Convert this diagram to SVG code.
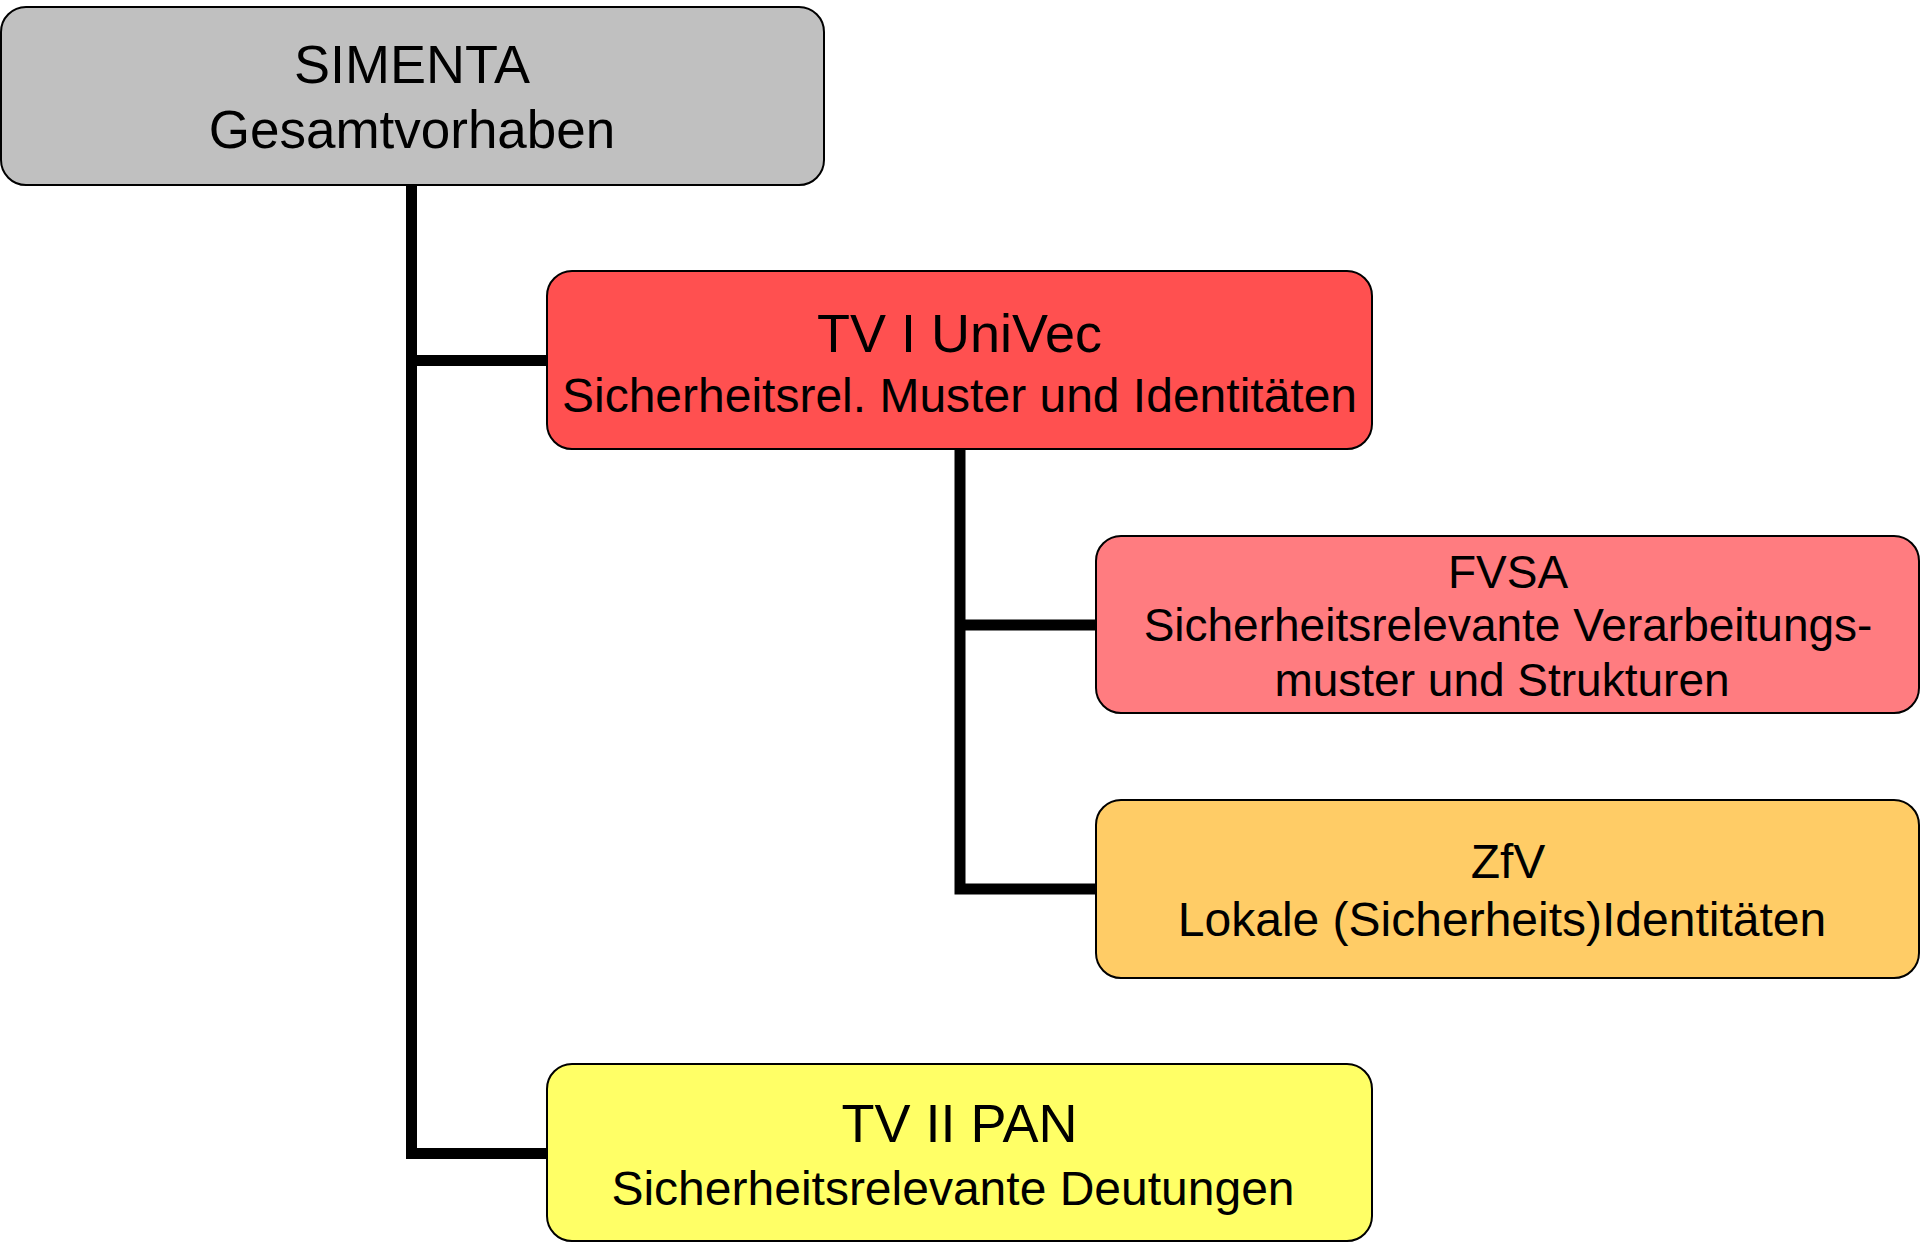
<svg xmlns="http://www.w3.org/2000/svg" width="1920" height="1242" viewBox="0 0 1920 1242">
<style>
.box{stroke:#000;stroke-width:2}
.t{font-family:"Liberation Sans",Arial,sans-serif;fill:#000;text-anchor:middle}
.conn{fill:none;stroke:#000;stroke-width:11;stroke-linejoin:miter;stroke-linecap:butt}
</style>
<rect width="1920" height="1242" fill="#fff"/>
<g id="connectors">
<path class="conn" d="M411.5 185 V1153.5 H547"/>
<path class="conn" d="M411.5 360.5 H547"/>
<path class="conn" d="M960 449 V889 H1096"/>
<path class="conn" d="M960 625 H1096"/>
</g>
<g id="simenta">
<rect class="box" x="1" y="7" width="823" height="178" rx="25" fill="#C0C0C0"/>
<text class="t" x="412" y="83" font-size="54">SIMENTA</text>
<text class="t" x="412" y="148" font-size="53">Gesamtvorhaben</text>
</g>
<g id="tv1">
<rect class="box" x="547" y="271" width="825" height="178" rx="25" fill="#FF5050"/>
<text class="t" x="959.5" y="352" font-size="54">TV I UniVec</text>
<text class="t" x="959.5" y="412" font-size="48">Sicherheitsrel. Muster und Identitäten</text>
</g>
<g id="fvsa">
<rect class="box" x="1096" y="536" width="823" height="177" rx="25" fill="#FF7C80"/>
<text class="t" x="1508" y="588" font-size="46">FVSA</text>
<text class="t" x="1508" y="641" font-size="46">Sicherheitsrelevante Verarbeitungs-</text>
<text class="t" x="1502" y="696" font-size="46">muster und Strukturen</text>
</g>
<g id="zfv">
<rect class="box" x="1096" y="800" width="823" height="178" rx="25" fill="#FFCC66"/>
<text class="t" x="1508" y="878" font-size="48">ZfV</text>
<text class="t" x="1502" y="936" font-size="48">Lokale (Sicherheits)Identitäten</text>
</g>
<g id="tv2">
<rect class="box" x="547" y="1064" width="825" height="177" rx="25" fill="#FFFF66"/>
<text class="t" x="959.5" y="1142" font-size="54">TV II PAN</text>
<text class="t" x="953" y="1205" font-size="48">Sicherheitsrelevante Deutungen</text>
</g>
</svg>
